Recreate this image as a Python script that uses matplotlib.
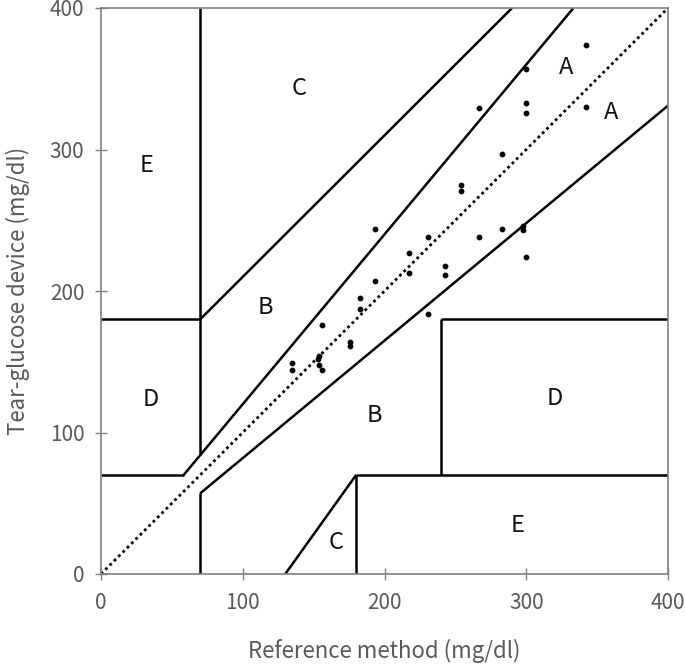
import matplotlib
matplotlib.use("Agg")
import matplotlib.pyplot as plt

plt.rcParams['font.family'] = ['Noto Sans CJK KR', 'DejaVu Sans']

# Data: reference method vs tear-glucose device (mg/dl)
ref_x = [342, 300, 267, 300, 300, 342, 283, 254, 254, 283, 298, 298, 267, 300,
         193, 231, 217, 217, 243, 243, 193, 183, 183, 231, 156, 176, 176, 154,
         153, 154, 156, 135, 135]
dev_y = [374, 357, 329, 333, 326, 330, 297, 275, 271, 244, 246, 243, 238, 224,
         244, 238, 227, 213, 218, 211, 207, 195, 187, 184, 176, 164, 161, 154,
         152, 148, 144, 149, 144]

ticks = [0, 100, 200, 300, 400]

# Zone boundary segments (Clarke error grid)
zone_lines = [
    ([0, 58.33], [70, 70]),
    ([58.33, 333.3], [70, 400]),
    ([70, 70], [84, 400]),
    ([0, 70], [180, 180]),
    ([70, 290], [180, 400]),
    ([70, 70], [0, 57]),
    ([70, 400], [57, 331]),
    ([180, 180], [0, 70]),
    ([180, 400], [70, 70]),
    ([240, 240], [70, 180]),
    ([240, 400], [180, 180]),
    ([130, 180], [0, 70]),
]
zone_labels = ['E', 'C', 'B', 'D', 'B', 'D', 'E', 'C', 'A', 'A']
zone_lx = [32, 140, 116, 35, 193, 320, 294, 166, 328, 360]
zone_ly = [289, 343, 188, 123, 112, 124, 34, 22, 358, 326]

fig = plt.figure(figsize=(6.85, 6.64), dpi=100)
ax = fig.add_axes([101/685, 90/664, 567/685, 566/664])

ax.plot([0, 400], [0, 400], color='black', linestyle=(0, (1, 1.2)), linewidth=2)
for xs, ys in zone_lines:
    ax.plot(xs, ys, color='black', linewidth=1.8, solid_capstyle='butt')

ax.scatter(ref_x, dev_y, s=10, color='black', zorder=5)

for t, lx, ly in zip(zone_labels, zone_lx, zone_ly):
    ax.text(lx, ly, t, fontsize=17, ha='center', va='center', color='#111111')

ax.set_xlim(0, 400)
ax.set_ylim(0, 400)
ax.set_xticks(ticks)
ax.set_yticks(ticks)
ax.tick_params(direction='inout', length=8, width=1, color='#808080',
               labelcolor='#595959', labelsize=15)
ax.tick_params(axis='x', pad=9)
ax.tick_params(axis='y', pad=8)
for s in ax.spines.values():
    s.set_color('#808080')
    s.set_linewidth(1.2)

ax.set_xlabel('Reference method (mg/dl)', fontsize=16, color='#595959', labelpad=18)
ax.set_ylabel('Tear-glucose device (mg/dl)', fontsize=16, color='#595959', labelpad=14)

fig.savefig('out.png', dpi=100)
